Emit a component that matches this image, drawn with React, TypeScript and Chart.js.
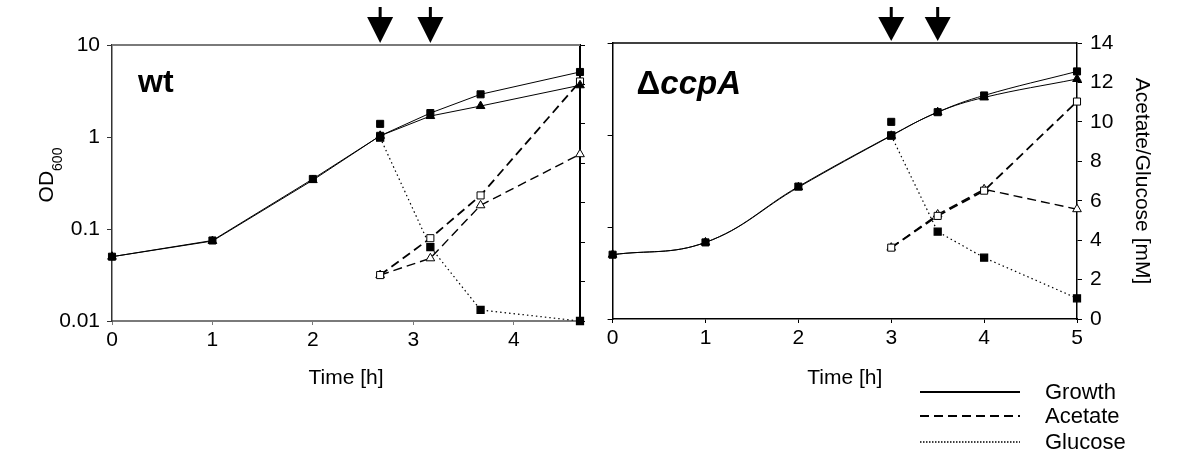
import React, { useEffect, useRef } from "react";
import { Chart, registerables } from "chart.js";

Chart.register(...registerables);

const FONT = "'Liberation Sans', Arial, Helvetica, sans-serif";

// ---------- wt panel ----------
const wtTime = [0, 1, 2, 2.67, 3.17, 3.67, 4.66];
const wtGrowthSquares = [0.05, 0.075, 0.35, 1.03, 1.82, 2.91, 5.09];
const wtGrowthTriangles = [0.05, 0.074, 0.34, 1.03, 1.69, 2.17, 3.65];
const wtSampleTime = [2.67, 3.17, 3.67, 4.66];
const wtAcetateSquares = [2.33, 4.2, 6.37, 12.15];
const wtAcetateTriangles = [2.33, 3.18, 5.87, 8.46];
const wtGlucose = [9.3, 3.75, 0.56, 0.0];
const wtGlucoseFirst = [10.0];
const wtArrows = [2.67, 3.17];
const wtXMax = 4.66;

// ---------- ΔccpA panel ----------
const ccpaTime = [0, 1, 2, 3, 3.5, 4, 5];
const ccpaGrowthSquares = [0.05, 0.068, 0.275, 0.99, 1.77, 2.69, 4.91];
const ccpaGrowthTriangles = [0.05, 0.068, 0.27, 0.98, 1.77, 2.56, 4.06];
const ccpaSampleTime = [3, 3.5, 4, 5];
const ccpaAcetateSquares = [3.62, 5.23, 6.51, 11.03];
const ccpaAcetateTriangles = [3.62, 5.3, 6.58, 5.57];
const ccpaGlucose = [9.3, 4.43, 3.11, 1.05];
const ccpaGlucoseFirst = [10.0];
const ccpaArrows = [3, 3.5];
const ccpaXMax = 5;

// ---------- axes / legend ----------
const odTicks = [10, 1, 0.1, 0.01];
const mmTicks = [0, 2, 4, 6, 8, 10, 12, 14];
const wtXTicks = [0, 1, 2, 3, 4];
const ccpaXTicks = [0, 1, 2, 3, 4, 5];
const legendLabels = ["Growth", "Acetate", "Glucose"];

function pts(xs: number[], ys: number[]) {
  return ys.map((y, i) => ({ x: xs[i], y }));
}

type Spec = {
  time: number[];
  growthSq: number[];
  growthTri: number[];
  sampleTime: number[];
  acetateSq: number[];
  acetateTri: number[];
  glucose: number[];
  glucoseFirst: number[];
  arrows: number[];
  xMax: number;
  xTicks: number[];
  tension: number;
  leftWidth: number;
  rightWidth: number;
  top: number;
  bottom: number;
  leftLabels: boolean;
  rightLabels: boolean;
  panel: "wt" | "ccpa";
};

function datasets(s: Spec) {
  const common = { borderColor: "#000", clip: false as any, pointHoverRadius: 5 };
  return [
    {
      ...common,
      data: pts(s.time, s.growthSq),
      yAxisID: "y",
      borderWidth: 1,
      tension: s.tension,
      pointStyle: "rect",
      pointRadius: 5,
      pointBackgroundColor: "#000",
      pointBorderColor: "#000",
    },
    {
      ...common,
      data: pts(s.time, s.growthTri),
      yAxisID: "y",
      borderWidth: 1,
      tension: s.tension,
      pointStyle: "triangle",
      pointRadius: 5,
      pointBackgroundColor: "#000",
      pointBorderColor: "#000",
    },
    {
      ...common,
      data: pts(s.sampleTime, s.acetateSq),
      yAxisID: "y2",
      borderWidth: 1.8,
      borderDash: [9, 5],
      pointStyle: "rect",
      pointRadius: 5,
      pointBackgroundColor: "#fff",
      pointBorderColor: "#000",
      pointBorderWidth: 1,
    },
    {
      ...common,
      data: pts(s.sampleTime, s.acetateTri),
      yAxisID: "y2",
      borderWidth: 1.4,
      borderDash: [9, 5],
      pointStyle: "triangle",
      pointRadius: 5,
      pointBackgroundColor: "#fff",
      pointBorderColor: "#000",
      pointBorderWidth: 1,
    },
    {
      ...common,
      data: pts(s.sampleTime, s.glucose),
      yAxisID: "y2",
      borderWidth: 1.2,
      borderDash: [1.5, 3],
      pointStyle: "rect",
      pointRadius: 5,
      pointBackgroundColor: "#000",
      pointBorderColor: "#000",
    },
    {
      ...common,
      data: pts(s.sampleTime, s.glucoseFirst),
      yAxisID: "y2",
      showLine: false,
      pointStyle: "rect",
      pointRadius: 5,
      pointBackgroundColor: "#000",
      pointBorderColor: "#000",
    },
  ];
}

function makeConfig(s: Spec): any {
  const isWt = s.panel === "wt";
  const frameGray = "#7a7a7a";
  const font = { family: FONT, size: 21 };
  const deco = {
    id: "deco" + s.panel,
    afterDraw(chart: any) {
      const ctx = chart.ctx as CanvasRenderingContext2D;
      const a = chart.chartArea;
      const xs = chart.scales.x;
      ctx.save();
      // top frame line
      ctx.strokeStyle = isWt ? frameGray : "#000";
      ctx.lineWidth = isWt ? 2 : 1.5;
      ctx.beginPath();
      ctx.moveTo(a.left, a.top);
      ctx.lineTo(a.right, a.top);
      ctx.stroke();
      // arrows
      ctx.fillStyle = "#000";
      for (const v of s.arrows) {
        const px = xs.getPixelForValue(v);
        ctx.fillRect(px - 1.5, 7, 3, 12);
        ctx.beginPath();
        ctx.moveTo(px - 13, 17);
        ctx.lineTo(px + 13, 17);
        ctx.lineTo(px, a.top - 2);
        ctx.closePath();
        ctx.fill();
      }
      // panel label
      ctx.textBaseline = "alphabetic";
      ctx.textAlign = "left";
      if (isWt) {
        ctx.font = `bold 32px ${FONT}`;
        ctx.fillText("wt", a.left + 26, 92);
      } else {
        ctx.font = `bold 33px ${FONT}`;
        const x0 = a.left + 24;
        ctx.fillText("Δ", x0, 94);
        const w = ctx.measureText("Δ").width;
        ctx.font = `italic bold 33px ${FONT}`;
        ctx.fillText("ccpA", x0 + w, 94);
      }
      // OD600 title (left panel only)
      if (isWt) {
        ctx.translate(45, 175);
        ctx.rotate(-Math.PI / 2);
        ctx.font = `21px ${FONT}`;
        const w1 = ctx.measureText("OD").width;
        ctx.font = `14px ${FONT}`;
        const w2 = ctx.measureText("600").width;
        const start = -(w1 + w2) / 2;
        ctx.font = `21px ${FONT}`;
        ctx.fillText("OD", start, 8);
        ctx.font = `14px ${FONT}`;
        ctx.fillText("600", start + w1, 17);
        ctx.setTransform(1, 0, 0, 1, 0, 0);
      } else {
        // legend
        const lx0 = 320;
        const lx1 = 420;
        const ys = [392, 416, 442];
        const dashes = [[], [9, 5], [1.5, 1.5]];
        const widths = [2, 2, 1.6];
        for (let i = 0; i < legendLabels.length; i++) {
          ctx.strokeStyle = "#000";
          ctx.lineWidth = widths[i];
          ctx.setLineDash(dashes[i]);
          ctx.beginPath();
          ctx.moveTo(lx0, ys[i]);
          ctx.lineTo(lx1, ys[i]);
          ctx.stroke();
          ctx.setLineDash([]);
          ctx.font = `22px ${FONT}`;
          ctx.textBaseline = "middle";
          ctx.fillStyle = "#000";
          ctx.fillText(legendLabels[i], 445, ys[i] + 1);
        }
      }
      ctx.restore();
    },
  };

  return {
    type: "line",
    data: { datasets: datasets(s) },
    plugins: [deco],
    options: {
      responsive: false,
      animation: false,
      events: [],
      layout: { padding: { top: s.top, left: 0, right: 0, bottom: 0 } },
      plugins: { legend: { display: false }, tooltip: { enabled: false } },
      scales: {
        x: {
          type: "linear",
          min: 0,
          max: s.xMax,
          afterBuildTicks: (sc: any) => {
            sc.ticks = s.xTicks.map((v) => ({ value: v }));
          },
          afterFit: (sc: any) => {
            sc.height = 470 - s.bottom;
          },
          ticks: { font, color: "#000", padding: 3, maxRotation: 0 },
          grid: {
            drawOnChartArea: false,
            tickLength: 4,
            color: isWt ? frameGray : "#000",
            lineWidth: 1,
          },
          border: { color: isWt ? frameGray : "#000", width: isWt ? 2 : 1.5 },
          title: {
            display: true,
            text: "Time [h]",
            font,
            color: "#000",
            padding: { top: 0, bottom: 79 },
          },
        },
        y: {
          type: "logarithmic",
          position: "left",
          min: 0.01,
          max: 10,
          afterBuildTicks: (sc: any) => {
            sc.ticks = odTicks.map((v) => ({ value: v }));
          },
          afterFit: (sc: any) => {
            sc.width = s.leftWidth;
          },
          ticks: {
            display: s.leftLabels,
            font,
            color: "#000",
            padding: 7,
            callback: (v: any) => String(v),
          },
          grid: {
            drawOnChartArea: false,
            tickLength: 5,
            color: isWt ? "#333" : "#000",
          },
          border: { color: isWt ? "#333" : "#000", width: 1.5 },
        },
        y2: {
          type: "linear",
          position: "right",
          min: 0,
          max: 14,
          afterBuildTicks: (sc: any) => {
            sc.ticks = mmTicks.map((v) => ({ value: v }));
          },
          afterFit: (sc: any) => {
            sc.width = s.rightWidth;
          },
          ticks: { display: s.rightLabels, font, color: "#000", padding: 8 },
          grid: { drawOnChartArea: false, tickLength: 5, color: "#000" },
          border: { color: "#000", width: isWt ? 2 : 1.5 },
          title: {
            display: s.rightLabels,
            text: "Acetate/Glucose [mM]",
            font,
            color: "#000",
            padding: { top: 46, bottom: 0 },
          },
        },
      },
    },
  };
}

const wtSpec: Spec = {
  time: wtTime,
  growthSq: wtGrowthSquares,
  growthTri: wtGrowthTriangles,
  sampleTime: wtSampleTime,
  acetateSq: wtAcetateSquares,
  acetateTri: wtAcetateTriangles,
  glucose: wtGlucose,
  glucoseFirst: wtGlucoseFirst,
  arrows: wtArrows,
  xMax: wtXMax,
  xTicks: wtXTicks,
  tension: 0,
  leftWidth: 112,
  rightWidth: 20,
  top: 45,
  bottom: 321,
  leftLabels: true,
  rightLabels: false,
  panel: "wt",
};

const ccpaSpec: Spec = {
  time: ccpaTime,
  growthSq: ccpaGrowthSquares,
  growthTri: ccpaGrowthTriangles,
  sampleTime: ccpaSampleTime,
  acetateSq: ccpaAcetateSquares,
  acetateTri: ccpaAcetateTriangles,
  glucose: ccpaGlucose,
  glucoseFirst: ccpaGlucoseFirst,
  arrows: ccpaArrows,
  xMax: ccpaXMax,
  xTicks: ccpaXTicks,
  tension: 0.4,
  leftWidth: 12.6,
  rightWidth: 123,
  top: 43,
  bottom: 319,
  leftLabels: false,
  rightLabels: true,
  panel: "ccpa",
};

function Panel({ spec, left }: { spec: Spec; left: number }) {
  const ref = useRef<HTMLCanvasElement | null>(null);
  useEffect(() => {
    if (!ref.current) return;
    const chart = new Chart(ref.current, makeConfig(spec));
    return () => chart.destroy();
  }, [spec]);
  return (
    <canvas
      ref={ref}
      width={600}
      height={470}
      style={{ position: "absolute", left, top: 0, width: 600, height: 470 }}
    />
  );
}

export default function App() {
  return (
    <div
      style={{
        position: "fixed",
        left: 0,
        top: 0,
        width: 1200,
        height: 470,
        background: "#fff",
        overflow: "hidden",
      }}
    >
      <Panel spec={wtSpec} left={0} />
      <Panel spec={ccpaSpec} left={600} />
    </div>
  );
}
